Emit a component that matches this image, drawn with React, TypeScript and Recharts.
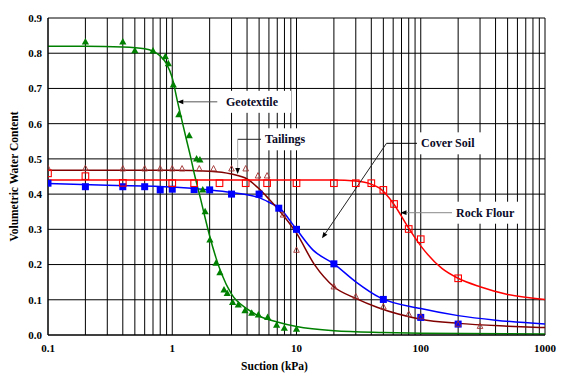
import React from 'react';
import {
  ComposedChart,
  Line,
  Scatter,
  XAxis,
  YAxis,
  CartesianGrid,
  ReferenceLine,
  ReferenceDot,
} from 'recharts';

// ---------- measured points ----------
const geotextilePoints = [
  { x: 0.2, y: 0.832 }, { x: 0.4, y: 0.832 }, { x: 0.5, y: 0.807 }, { x: 0.7, y: 0.806 },
  { x: 0.88, y: 0.79 }, { x: 0.93, y: 0.77 }, { x: 1.02, y: 0.71 }, { x: 1.13, y: 0.625 },
  { x: 1.37, y: 0.566 }, { x: 1.57, y: 0.5 }, { x: 1.67, y: 0.497 }, { x: 1.76, y: 0.412 },
  { x: 1.84, y: 0.35 }, { x: 2.01, y: 0.27 }, { x: 2.25, y: 0.204 }, { x: 2.42, y: 0.177 },
  { x: 2.61, y: 0.128 }, { x: 2.77, y: 0.118 }, { x: 3.06, y: 0.092 }, { x: 3.4, y: 0.085 },
  { x: 3.85, y: 0.069 }, { x: 4.36, y: 0.062 }, { x: 4.93, y: 0.057 }, { x: 5.86, y: 0.05 },
  { x: 6.92, y: 0.028 }, { x: 7.98, y: 0.019 }, { x: 10, y: 0.016 },
];

const tailingsPoints = [
  { x: 0.1, y: 0.473 }, { x: 0.2, y: 0.473 }, { x: 0.4, y: 0.472 }, { x: 0.6, y: 0.472 },
  { x: 0.8, y: 0.472 }, { x: 1.0, y: 0.472 }, { x: 1.2, y: 0.472 }, { x: 1.65, y: 0.472 },
  { x: 2.15, y: 0.472 }, { x: 3.0, y: 0.472 }, { x: 3.9, y: 0.472 }, { x: 4.9, y: 0.452 },
  { x: 5.8, y: 0.452 }, { x: 7.8, y: 0.341 }, { x: 10, y: 0.241 }, { x: 20, y: 0.137 },
  { x: 30, y: 0.109 }, { x: 50, y: 0.08 }, { x: 80, y: 0.059 }, { x: 100, y: 0.052 },
  { x: 200, y: 0.031 }, { x: 300, y: 0.025 },
];

const coverSoilPoints = [
  { x: 0.1, y: 0.431 }, { x: 0.2, y: 0.421 }, { x: 0.4, y: 0.421 }, { x: 0.6, y: 0.421 },
  { x: 0.8, y: 0.412 }, { x: 1.0, y: 0.414 }, { x: 1.5, y: 0.413 }, { x: 2.0, y: 0.412 },
  { x: 3.0, y: 0.4 }, { x: 5.0, y: 0.4 }, { x: 7.2, y: 0.36 }, { x: 10, y: 0.3 },
  { x: 20, y: 0.202 }, { x: 50, y: 0.101 }, { x: 100, y: 0.05 }, { x: 200, y: 0.031 },
];

const rockFlourPoints = [
  { x: 0.1, y: 0.459 }, { x: 0.2, y: 0.451 }, { x: 0.4, y: 0.432 }, { x: 1.0, y: 0.431 },
  { x: 1.5, y: 0.431 }, { x: 2.4, y: 0.431 }, { x: 3.9, y: 0.431 }, { x: 5.8, y: 0.431 },
  { x: 10, y: 0.431 }, { x: 20, y: 0.431 }, { x: 30, y: 0.431 }, { x: 40, y: 0.431 },
  { x: 50, y: 0.412 }, { x: 61, y: 0.372 }, { x: 80, y: 0.301 }, { x: 100, y: 0.272 },
  { x: 200, y: 0.161 },
];

// ---------- fitted curves ----------
const geotextileCurve = [
  { x: 0.1, y: 0.82 }, { x: 0.2, y: 0.82 }, { x: 0.4, y: 0.818 }, { x: 0.6, y: 0.813 },
  { x: 0.7, y: 0.806 }, { x: 0.8, y: 0.792 }, { x: 0.9, y: 0.77 }, { x: 1.0, y: 0.73 },
  { x: 1.1, y: 0.664 }, { x: 1.2, y: 0.607 }, { x: 1.3, y: 0.555 }, { x: 1.4, y: 0.508 },
  { x: 1.5, y: 0.46 }, { x: 1.6, y: 0.42 }, { x: 1.7, y: 0.383 }, { x: 1.8, y: 0.346 },
  { x: 2.0, y: 0.281 }, { x: 2.25, y: 0.219 }, { x: 2.5, y: 0.173 }, { x: 3.0, y: 0.116 },
  { x: 4.0, y: 0.074 }, { x: 5.0, y: 0.054 }, { x: 7.0, y: 0.037 }, { x: 10, y: 0.024 },
  { x: 20, y: 0.012 }, { x: 50, y: 0.007 }, { x: 100, y: 0.005 }, { x: 1000, y: 0.003 },
];

const tailingsCurve = [
  { x: 0.1, y: 0.468 }, { x: 1.0, y: 0.468 }, { x: 2.0, y: 0.465 }, { x: 3.0, y: 0.457 },
  { x: 4.0, y: 0.443 }, { x: 5.0, y: 0.415 }, { x: 6.0, y: 0.386 }, { x: 7.0, y: 0.36 },
  { x: 10, y: 0.289 }, { x: 14, y: 0.199 }, { x: 20, y: 0.137 }, { x: 30, y: 0.104 },
  { x: 45, y: 0.078 }, { x: 100, y: 0.045 }, { x: 200, y: 0.033 }, { x: 500, y: 0.025 },
  { x: 1000, y: 0.021 },
];

const coverSoilCurve = [
  { x: 0.1, y: 0.43 }, { x: 0.3, y: 0.425 }, { x: 1.0, y: 0.42 }, { x: 2.0, y: 0.412 },
  { x: 3.0, y: 0.405 }, { x: 4.0, y: 0.398 }, { x: 5.0, y: 0.39 }, { x: 6.0, y: 0.377 },
  { x: 7.3, y: 0.36 }, { x: 10, y: 0.3 }, { x: 13.6, y: 0.241 }, { x: 20, y: 0.202 },
  { x: 30, y: 0.151 }, { x: 47, y: 0.106 }, { x: 100, y: 0.075 }, { x: 200, y: 0.055 },
  { x: 400, y: 0.042 }, { x: 1000, y: 0.031 },
];

const rockFlourCurve = [
  { x: 0.1, y: 0.44 }, { x: 1.0, y: 0.44 }, { x: 10, y: 0.44 }, { x: 20, y: 0.44 },
  { x: 30, y: 0.437 }, { x: 40, y: 0.428 }, { x: 47, y: 0.416 }, { x: 60, y: 0.374 },
  { x: 80, y: 0.303 }, { x: 100, y: 0.253 }, { x: 148, y: 0.189 }, { x: 200, y: 0.161 },
  { x: 300, y: 0.137 }, { x: 500, y: 0.115 }, { x: 1000, y: 0.101 },
];

// ---------- ticks ----------
const xTicks = [
  0.1, 0.2, 0.3, 0.4, 0.5, 0.6, 0.7, 0.8, 0.9,
  1, 2, 3, 4, 5, 6, 7, 8, 9,
  10, 20, 30, 40, 50, 60, 70, 80, 90,
  100, 200, 300, 400, 500, 600, 700, 800, 900,
  1000,
];
const yTicks = [0, 0.1, 0.2, 0.3, 0.4, 0.5, 0.6, 0.7, 0.8, 0.9];
const yMinorTicks = [
  0.02, 0.04, 0.06, 0.08, 0.12, 0.14, 0.16, 0.18, 0.22, 0.24, 0.26, 0.28,
  0.32, 0.34, 0.36, 0.38, 0.42, 0.44, 0.46, 0.48, 0.52, 0.54, 0.56, 0.58,
  0.62, 0.64, 0.66, 0.68, 0.72, 0.74, 0.76, 0.78, 0.82, 0.84, 0.86, 0.88,
];

// ---------- annotations (data coordinates) ----------
const annotationLabels = ['Geotextile', 'Tailings', 'Cover Soil', 'Rock Flour'];
const annotationTextAt = [
  { x: 2.71, y: 0.662 },
  { x: 5.58, y: 0.5556 },
  { x: 100.5, y: 0.5442 },
  { x: 192.2, y: 0.3472 },
];
const annotationPaths = [
  [{ x: 2.305, y: 0.662 }, { x: 1.098, y: 0.662 }],
  [{ x: 5.25, y: 0.5556 }, { x: 3.36, y: 0.5556 }, { x: 3.36, y: 0.457 }],
  [{ x: 95.1, y: 0.5442 }, { x: 53, y: 0.5442 }, { x: 16.04, y: 0.2745 }],
  [{ x: 178.4, y: 0.3472 }, { x: 68.7, y: 0.3472 }],
];
const annotationColors = [
  ['#555555'],
  ['#222222', '#aaaaaa'],
  ['#000000', '#222222'],
  ['#888888'],
];

const FONT = "'Liberation Serif', 'Times New Roman', Times, serif";

const isPow10 = (v: number) => Math.abs(Math.log10(v) - Math.round(Math.log10(v))) < 1e-9;
const fmtX = (v: number) => (isPow10(v) ? String(Number(v.toPrecision(6))) : '');
const fmtY = (v: number) => v.toFixed(1);

const textStyle: React.CSSProperties = { fontFamily: FONT, fontWeight: 700 };

// ---------- marker shapes ----------
const GreenTriangle = (props: any) => {
  const { cx, cy } = props;
  if (cx == null || cy == null) return null;
  return (
    <polygon
      points={`${cx},${cy - 4} ${cx - 3.6},${cy + 2.5} ${cx + 3.6},${cy + 2.5}`}
      fill="#008000"
    />
  );
};
const MaroonTriangle = (props: any) => {
  const { cx, cy } = props;
  if (cx == null || cy == null) return null;
  return (
    <polygon
      points={`${cx},${cy - 3.2} ${cx - 2.8},${cy + 2.2} ${cx + 2.8},${cy + 2.2}`}
      fill="none"
      stroke="#a03030"
      strokeWidth={0.9}
    />
  );
};
const BlueSquare = (props: any) => {
  const { cx, cy } = props;
  if (cx == null || cy == null) return null;
  return <rect x={cx - 3.5} y={cy - 3.5} width={7} height={7} fill="#0000ff" />;
};
const RedSquare = (props: any) => {
  const { cx, cy } = props;
  if (cx == null || cy == null) return null;
  return (
    <rect x={cx - 3.3} y={cy - 3.3} width={6.6} height={6.6} fill="none" stroke="#ff0000" strokeWidth={1.1} />
  );
};

// ---------- annotation shapes ----------
const makeLeader = (color: string, arrow: boolean) => (props: any) => {
  const { x1, y1, x2, y2 } = props;
  if ([x1, y1, x2, y2].some((v) => v == null || Number.isNaN(v))) return null;
  const ang = Math.atan2(y2 - y1, x2 - x1);
  const L = 6;
  const W = 2.4;
  const c = Math.cos(ang);
  const s = Math.sin(ang);
  const bx = x2 - L * c;
  const by = y2 - L * s;
  return (
    <g>
      <line x1={x1} y1={y1} x2={arrow ? bx : x2} y2={arrow ? by : y2} stroke={color} strokeWidth={1} />
      {arrow && (
        <polygon
          points={`${x2},${y2} ${bx - W * s},${by + W * c} ${bx + W * s},${by - W * c}`}
          fill="#000"
        />
      )}
    </g>
  );
};

const makeLabelBox = (text: string) => (props: any) => {
  const { cx, cy } = props;
  if (cx == null || cy == null) return null;
  const w = text.length * 5.9;
  return (
    <g>
      <rect x={cx - 4} y={cy - 11} width={w + 10} height={22} fill="#ffffff" />
      <text
        x={cx}
        y={cy}
        dominantBaseline="central"
        style={{ ...textStyle, fontSize: 12 }}
        fill="#0a0a28"
      >
        {text}
      </text>
    </g>
  );
};

const YTitle = (props: any) => {
  const vb = props.viewBox || { x: 0, y: 18, width: 48, height: 317 };
  const x = vb.x + 14;
  const y = vb.y + vb.height / 2;
  return (
    <text
      x={x}
      y={y}
      transform={`rotate(-90, ${x}, ${y})`}
      textAnchor="middle"
      dominantBaseline="central"
      style={{ ...textStyle, fontSize: 11.5 }}
      fill="#000"
    >
      Volumetric Water Content
    </text>
  );
};

const XTitle = (props: any) => {
  const vb = props.viewBox || { x: 48, y: 335, width: 497, height: 39 };
  return (
    <text
      x={vb.x + vb.width / 2 - 22}
      y={vb.y + 30.5}
      textAnchor="middle"
      dominantBaseline="central"
      style={{ ...textStyle, fontSize: 11.5 }}
      fill="#000"
    >
      Suction (kPa)
    </text>
  );
};

const tickStyle = { fill: '#000', fontSize: 11, style: { ...textStyle } } as any;

export default function App() {
  const leaders: React.ReactNode[] = [];
  annotationPaths.forEach((path, ai) => {
    for (let i = 0; i < path.length - 1; i++) {
      const isLast = i === path.length - 2;
      leaders.push(
        <ReferenceLine
          key={`leader-${ai}-${i}`}
          segment={[path[i], path[i + 1]]}
          ifOverflow="visible"
          shape={makeLeader(annotationColors[ai][i] || '#000', isLast)}
        />
      );
    }
  });

  return (
    <div style={{ position: 'absolute', left: 0, top: 0, fontFamily: FONT, fontWeight: 700 }}>
      <ComposedChart
        width={566}
        height={374}
        margin={{ top: 18, right: 21, bottom: 0, left: 0 }}
        style={{ background: '#fff' }}
      >
        <CartesianGrid stroke="#000" strokeWidth={1} />
        <XAxis
          dataKey="x"
          type="number"
          scale="log"
          domain={[0.1, 1000]}
          allowDataOverflow
          ticks={xTicks}
          interval={0}
          tickFormatter={fmtX}
          tickLine={false}
          tickSize={5}
          tickMargin={4}
          axisLine={{ stroke: '#000' }}
          tick={tickStyle}
          height={39}
          label={{ content: XTitle } as any}
        />
        <YAxis
          yAxisId="minor"
          type="number"
          domain={[0, 0.9]}
          ticks={yMinorTicks}
          mirror
          width={0}
          tick={false}
          axisLine={false}
          tickLine={{ stroke: '#000' }}
          tickSize={5}
          allowDataOverflow
        />
        <YAxis
          type="number"
          domain={[0, 0.9]}
          allowDataOverflow
          ticks={yTicks}
          interval={0}
          tickFormatter={fmtY}
          tickLine={false}
          tickSize={2}
          tickMargin={4}
          axisLine={{ stroke: '#000' }}
          tick={tickStyle}
          width={48}
          label={{ content: YTitle } as any}
        />

        <Line data={coverSoilCurve} dataKey="y" type="monotone" stroke="#0000ff" strokeWidth={1.5} dot={false} activeDot={false} isAnimationActive={false} />
        <Line data={tailingsCurve} dataKey="y" type="monotone" stroke="#800000" strokeWidth={1.5} dot={false} activeDot={false} isAnimationActive={false} />
        <Line data={rockFlourCurve} dataKey="y" type="monotone" stroke="#ff0000" strokeWidth={1.5} dot={false} activeDot={false} isAnimationActive={false} />
        <Line data={geotextileCurve} dataKey="y" type="monotone" stroke="#008000" strokeWidth={1.5} dot={false} activeDot={false} isAnimationActive={false} />

        <Scatter data={coverSoilPoints} dataKey="y" shape={BlueSquare} isAnimationActive={false} />
        <Scatter data={tailingsPoints} dataKey="y" shape={MaroonTriangle} isAnimationActive={false} />
        <Scatter data={rockFlourPoints} dataKey="y" shape={RedSquare} isAnimationActive={false} />
        <Scatter data={geotextilePoints} dataKey="y" shape={GreenTriangle} isAnimationActive={false} />

        {leaders}
        {annotationLabels.map((t, i) => (
          <ReferenceDot
            key={`lab-${i}`}
            x={annotationTextAt[i].x}
            y={annotationTextAt[i].y}
            r={1}
            ifOverflow="visible"
            shape={makeLabelBox(t)}
          />
        ))}
      </ComposedChart>
    </div>
  );
}
